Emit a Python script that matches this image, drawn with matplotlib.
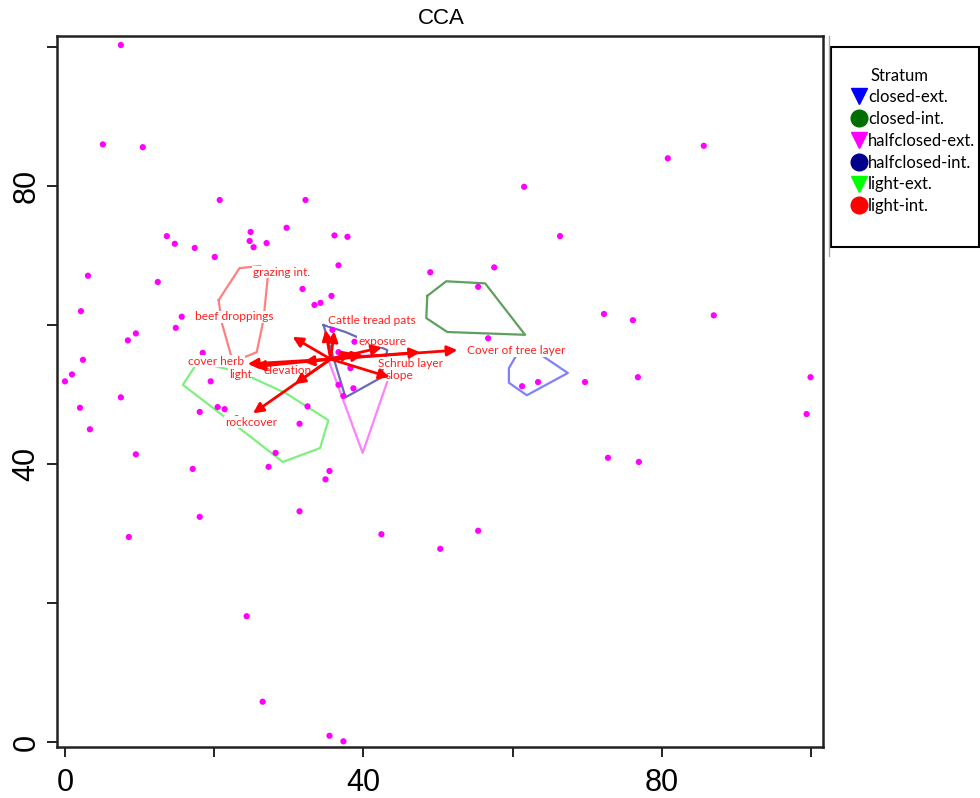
import matplotlib.pyplot as plt
from matplotlib.lines import Line2D
from matplotlib.patches import Rectangle

# site scores
site_x = [7.49, 5.08, 10.43, 20.74, 32.24, 13.65, 14.72, 17.39, 20.07, 24.88,
          24.75, 25.28, 27.02, 29.70, 36.12, 37.86, 85.62, 80.80, 61.54, 66.35,
          36.66, 48.96, 57.53, 55.38, 31.84, 35.72, 34.25, 33.44, 3.08, 12.44,
          2.14, 15.65, 14.85, 9.50, 8.43, 72.24, 76.12, 86.96, 56.72, 35.85,
          38.80, 2.41, 0.94, 0.0, 18.46, 36.66, 38.26, 31.84, 19.53, 36.66,
          38.66, 37.32, 61.27, 63.41, 69.70, 76.79, 99.93, 99.40, 7.49, 2.01,
          3.34, 20.47, 21.40, 18.06, 23.01, 32.51, 31.44, 9.50, 28.23, 17.12,
          27.29, 35.45, 34.92, 72.78, 76.92, 31.44, 18.06, 8.56, 42.41, 50.30,
          55.38, 24.35, 26.49, 35.45, 37.32]
site_y = [100.3, 86.0, 85.6, 78.0, 78.0, 72.8, 71.7, 71.1, 69.8, 73.4,
          72.1, 71.2, 71.8, 74.0, 72.9, 72.7, 85.8, 84.0, 79.9, 72.8,
          68.6, 67.6, 68.3, 65.5, 65.2, 64.2, 63.2, 62.9, 67.1, 66.2,
          62.0, 61.2, 59.6, 58.8, 57.8, 61.6, 60.7, 61.4, 58.1, 59.3,
          57.6, 55.0, 52.9, 51.9, 56.0, 56.1, 53.8, 52.5, 51.9, 51.4,
          50.9, 49.8, 51.2, 51.8, 51.8, 52.5, 52.5, 47.2, 49.6, 48.1,
          45.0, 48.2, 47.9, 47.5, 46.6, 48.3, 45.8, 41.4, 41.6, 39.3,
          39.6, 39.0, 37.8, 40.9, 40.3, 33.2, 32.4, 29.5, 29.9, 27.8,
          30.4, 18.1, 5.8, 0.9, 0.1]

strata = ['closed-ext.', 'closed-int.', 'halfclosed-ext.', 'halfclosed-int.',
          'light-ext.', 'light-int.']

# hull vertices per stratum
hull_x = [[60.7, 59.5, 59.5, 61.9, 67.4, 63.4],
          [48.56, 51.10, 56.32, 61.67, 51.24, 48.43],
          [35.2, 39.9, 43.5, 42.0],
          [34.65, 37.6, 43.2, 42.3, 37.6],
          [17.8, 15.8, 24.9, 29.2, 34.2, 35.3, 29.6, 23.5],
          [20.6, 23.4, 26.2, 27.2, 26.6, 25.7, 22.5, 21.0]]
hull_y = [[56.0, 53.8, 51.7, 49.9, 53.1, 56.0],
          [64.2, 66.3, 66.0, 58.6, 59.0, 61.0],
          [55.3, 41.6, 52.8, 55.7],
          [60.0, 59.0, 56.4, 52.4, 49.6],
          [54.7, 51.4, 43.9, 40.3, 42.3, 46.3, 50.2, 53.2],
          [63.6, 68.2, 68.5, 67.1, 60.7, 56.1, 54.7, 60.4]]

# environmental vectors
origin = (35.6, 55.1)
env_names = ['Cover of tree layer', 'Schrub layer', 'exposure', 'slope',
             'Cattle tread pats', 'grazing int.', 'beef droppings',
             'cover herb', 'light', 'elevation', 'rockcover', '', '', '']
env_x = [52.6, 47.6, 42.5, 43.5, 34.9, 36.1, 30.5, 24.5, 25.4, 32.0, 25.2, 38.5, 39.9, 30.8]
env_y = [56.4, 56.1, 56.8, 52.5, 59.3, 59.1, 58.3, 54.4, 54.0, 54.7, 47.3, 56.0, 55.7, 51.5]
# where the labels were put by hand
label_x = [60.5, 46.3, 42.5, 44.8, 41.2, 29.0, 22.7, 20.3, 23.5, 29.8, 24.9]
label_y = [56.3, 54.5, 57.7, 52.8, 60.7, 67.6, 61.2, 54.8, 52.9, 53.5, 46.0]

legend_colors = ['#0000ff', '#006f00', '#ff00ff', '#00008b', '#00ff00', '#ff0000']
legend_markers = ['v', 'o', 'v', 'o', 'v', 'o']
hull_colors = ['#8080ff', '#5f9f5f', '#ff80ff', '#6a6ab8', '#7ff07f', '#ff8080']

fig = plt.figure(figsize=(9.8, 7.98), dpi=100)
ax = fig.add_axes([57 / 980, 1 - 747 / 798, (823 - 57) / 980, (747 - 36) / 798])

ax.scatter(site_x, site_y, s=20, color='#ff00ff', edgecolors='none', zorder=3)

for hx, hy, c in zip(hull_x, hull_y, hull_colors):
    ax.plot(hx + [hx[0]], hy + [hy[0]], color=c, lw=1.6, zorder=2)

for ex, ey in zip(env_x, env_y):
    ax.annotate('', xy=(ex, ey), xytext=origin,
                arrowprops=dict(arrowstyle='-|>,head_length=0.6,head_width=0.3',
                                color='red', lw=2, shrinkA=0, shrinkB=0),
                zorder=5)

for name, lx, ly in zip(env_names, label_x, label_y):
    ax.text(lx, ly, name, color='#ff2020', fontsize=8.6, family='Lato',
            ha='center', va='center', zorder=4,
            bbox=dict(fc='white', ec='none', pad=0.4))

ax.set_xlim(-1.07, 101.6)
ax.set_ylim(-0.72, 101.6)
ax.set_xticks(range(0, 101, 20))
ax.set_yticks(range(0, 101, 20))
ax.set_xticklabels(['0', '', '40', '', '80', ''], family='Liberation Sans', fontsize=22)
ax.set_yticklabels(['0', '', '40', '', '80', ''], family='Liberation Sans', fontsize=22,
                   rotation=90, va='center')
ax.tick_params(length=7, width=1.4, color='#222222')
ax.tick_params(axis='x', pad=8)
ax.tick_params(axis='y', pad=4)
for sp in ax.spines.values():
    sp.set_linewidth(1.8)
    sp.set_color('#222222')

fig.text(441 / 980, 1 - 18 / 798, 'CCA', ha='center', va='center',
         fontsize=16, family='Liberation Sans')

# legend box
fig.add_artist(Rectangle((831 / 980, 1 - 247 / 798), 148 / 980, 200 / 798,
                         transform=fig.transFigure, fill=False, ec='black', lw=1.5))
fig.add_artist(Line2D([829 / 980] * 2, [1 - 36 / 798, 1 - 256 / 798],
                      transform=fig.transFigure, color='#aaaaaa', lw=1))
fig.text(870 / 980, 1 - 76 / 798, 'Stratum', fontsize=12, family='Lato', va='center')
handles = [Line2D([], [], marker=m, color=c, linestyle='none', markersize=12)
           for m, c in zip(legend_markers, legend_colors)]
fig.legend(handles, strata, loc='upper left', bbox_to_anchor=(851 / 980, 1 - 89 / 798),
           frameon=False, prop={'family': 'Lato', 'size': 12}, handlelength=0.9,
           handletextpad=0.12, labelspacing=0.35, borderpad=0, borderaxespad=0)

plt.savefig('out.png', dpi=100)
